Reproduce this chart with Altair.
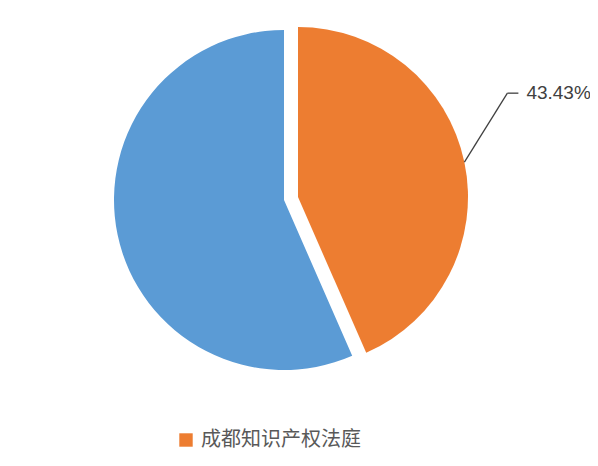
import altair as alt
import pandas as pd
import math

categories = ["成都知识产权法庭", "其他"]
shares = [43.43, 56.57]
order_idx = [0, 1]
colors = ["#ED7D31", "#5B9BD5"]
label_text = ["43.43%", ""]

df = pd.DataFrame({"cat": categories, "share": shares, "idx": order_idx, "label": label_text})

R = 170
# centers (plot coords): orange slice exploded
CENTERS = {categories[0]: (290, 189), categories[1]: (276, 192)}

base = alt.Chart(df).transform_window(
    end="sum(share)", sort=[alt.SortField("idx")], frame=[None, 0]
).transform_calculate(start="datum.end - datum.share")

theta_scale = alt.Scale(domain=[0, 100], range=[0, 2 * math.pi])

color = alt.Color(
    "cat:N",
    scale=alt.Scale(domain=categories, range=colors),
    legend=alt.Legend(
        values=[categories[0]],
        orient="none",
        legendX=168,
        legendY=422,
        title=None,
        symbolType="square",
        symbolSize=180,
        symbolStrokeWidth=0,
        labelFontSize=20,
        labelColor="#595959",
        labelFont="Noto Sans CJK SC",
        labelOffset=5,
        padding=0,
    ),
)

layers = []
for cat in categories:
    cx, cy = CENTERS[cat]
    layers.append(
        base.transform_filter(alt.datum.cat == cat)
        .mark_arc(radius=R)
        .encode(
            theta=alt.Theta("start:Q", scale=theta_scale),
            theta2="end:Q",
            color=color,
            x=alt.value(cx),
            y=alt.value(cy),
        )
    )

ocx, ocy = CENTERS[categories[0]]
lab = base.transform_filter(alt.datum.label != "").transform_calculate(
    a="PI * (datum.start + datum.end) / 100",
).transform_calculate(
    sx=f"{ocx} + {R} * sin(datum.a)",
    sy=f"{ocy} - {R} * cos(datum.a)",
).transform_calculate(
    ex="datum.sx + 43",
    ey="datum.sy - 69",
).transform_calculate(
    hx="datum.ex + 11",
    tx="datum.ex + 19",
)

line1 = lab.mark_rule(color="#404040", strokeWidth=1.3).encode(
    x=alt.X("sx:Q", scale=None), y=alt.Y("sy:Q", scale=None),
    x2="ex:Q", y2="ey:Q",
)
line2 = lab.mark_rule(color="#404040", strokeWidth=1.3).encode(
    x=alt.X("ex:Q", scale=None), y=alt.Y("ey:Q", scale=None),
    x2="hx:Q", y2="ey:Q",
)
text = lab.mark_text(
    align="left", baseline="middle", fontSize=19, color="#404040",
    font="Liberation Sans",
).encode(
    x=alt.X("tx:Q", scale=None), y=alt.Y("ey:Q", scale=None), text="label:N"
)

chart = alt.layer(*layers, line1, line2, text).properties(
    width=582, height=450,
    autosize=alt.AutoSizeParams(type="none"),
    padding=0,
    background="white",
).configure_view(stroke=None)

chart.save("out.html", embed_options={"renderer": "svg", "actions": False})
